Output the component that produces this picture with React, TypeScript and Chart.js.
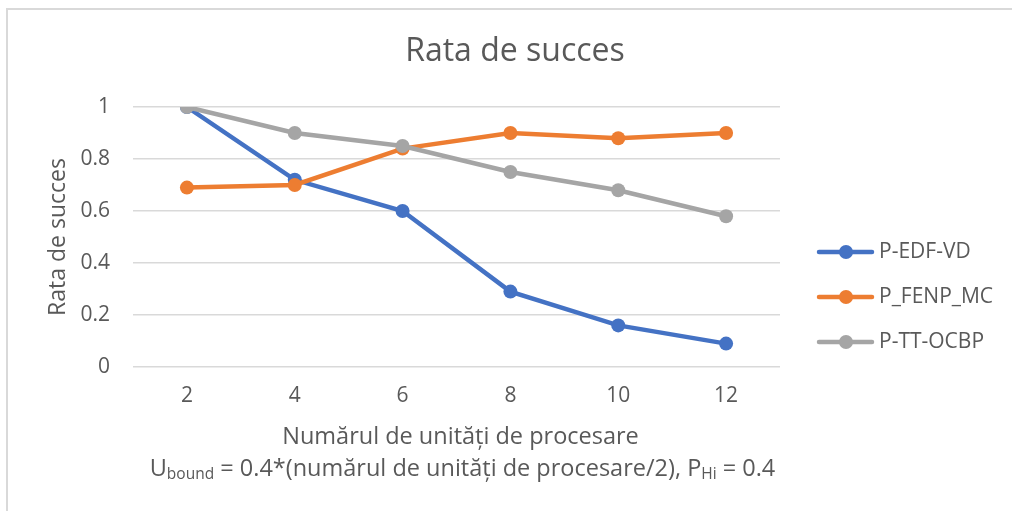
import React, { useEffect, useRef } from "react";
import { Chart, registerables } from "chart.js";

Chart.register(...registerables);

const categories = ["2", "4", "6", "8", "10", "12"];
const seriesNames = ["P-EDF-VD", "P_FENP_MC", "P-TT-OCBP"];
const edfVd = [1, 0.72, 0.6, 0.29, 0.16, 0.09];
const fenpMc = [0.69, 0.7, 0.84, 0.9, 0.88, 0.9];
const ttOcbp = [1, 0.9, 0.85, 0.75, 0.68, 0.58];
const colors = ["#4472C4", "#ED7D31", "#A5A5A5"];
const chartTitle = "Rata de succes";
const yTitle = "Rata de succes";
const xTitle1 = "Numărul de unități de procesare";

const FONT = "'Open Sans', sans-serif";
const TEXT = "#595959";

const decor = {
  id: "decor",
  afterDraw(chart: any) {
    const ctx = chart.ctx as CanvasRenderingContext2D;
    const area = chart.chartArea;
    ctx.save();
    // chart border
    ctx.strokeStyle = "#d9d9d9";
    ctx.lineWidth = 2;
    ctx.beginPath();
    ctx.moveTo(7, 520);
    ctx.lineTo(7, 9);
    ctx.lineTo(1020, 9);
    ctx.stroke();

    ctx.fillStyle = TEXT;
    // title
    ctx.font = `32px ${FONT}`;
    ctx.textAlign = "center";
    ctx.textBaseline = "middle";
    ctx.fillText(chartTitle, 515, 52);

    // y title
    ctx.save();
    ctx.translate(58, (area.top + area.bottom) / 2);
    ctx.rotate(-Math.PI / 2);
    ctx.font = `23px ${FONT}`;
    ctx.fillText(yTitle, 0, 0);
    ctx.restore();

    // x title line 1
    const cx = (area.left + area.right) / 2 + 4;
    ctx.font = `23.5px ${FONT}`;
    ctx.fillText(xTitle1, cx, 437);

    // x title line 2 with subscripts
    const parts: [string, boolean][] = [
      ["U", false],
      ["bound", true],
      [" = 0.4*(numărul de unități de procesare/2), P", false],
      ["Hi", true],
      [" = 0.4", false],
    ];
    const big = `23.5px ${FONT}`;
    const small = `15.5px ${FONT}`;
    let total = 0;
    for (const [t, sub] of parts) {
      ctx.font = sub ? small : big;
      total += ctx.measureText(t).width;
    }
    let x = cx + 2 - total / 2;
    ctx.textAlign = "left";
    for (const [t, sub] of parts) {
      ctx.font = sub ? small : big;
      ctx.fillText(t, x, sub ? 475 : 469);
      x += ctx.measureText(t).width;
    }

    // legend
    const rows = [252, 297, 342];
    rows.forEach((y, i) => {
      ctx.strokeStyle = colors[i];
      ctx.lineWidth = 4.5;
      ctx.lineCap = "round";
      ctx.beginPath();
      ctx.moveTo(819, y);
      ctx.lineTo(872, y);
      ctx.stroke();
      ctx.fillStyle = colors[i];
      ctx.beginPath();
      ctx.arc(846, y, 7, 0, Math.PI * 2);
      ctx.fill();
      ctx.fillStyle = TEXT;
      ctx.font = `21px ${FONT}`;
      ctx.textAlign = "left";
      ctx.textBaseline = "middle";
      ctx.fillText(seriesNames[i], 879, y);
    });
    ctx.restore();
  },
};

export default function App() {
  const ref = useRef<HTMLCanvasElement | null>(null);
  useEffect(() => {
    if (!ref.current) return;
    const values = [edfVd, fenpMc, ttOcbp];
    const chart = new Chart(ref.current, {
      type: "line",
      data: {
        labels: categories,
        datasets: values.map((v, i) => ({
          label: seriesNames[i],
          data: v,
          borderColor: colors[i],
          backgroundColor: colors[i],
          pointBackgroundColor: colors[i],
          pointBorderColor: colors[i],
          pointRadius: 7,
          pointBorderWidth: 0,
          borderWidth: 4.5,
          tension: 0,
          order: 3 - i,
        })),
      },
      options: {
        animation: false,
        responsive: true,
        maintainAspectRatio: false,
        layout: { padding: { left: 0, top: 107, right: 232, bottom: 104 } },
        plugins: {
          legend: { display: false },
          title: { display: false },
          tooltip: { enabled: false },
        },
        scales: {
          x: {
            offset: true,
            grid: { display: false, drawTicks: false },
            border: { display: false },
            ticks: { color: TEXT, font: { family: FONT, size: 21 }, padding: 16 },
            afterFit: (s: any) => {
              s.height = 40;
            },
          },
          y: {
            min: 0,
            max: 1,
            ticks: {
              stepSize: 0.2,
              color: TEXT,
              font: { family: FONT, size: 21 },
              padding: 23,
              callback: (v: any) => String(Math.round(Number(v) * 10) / 10),
            },
            grid: { color: "#d9d9d9", lineWidth: 1.5, drawTicks: false },
            border: { display: false },
            afterFit: (s: any) => {
              s.width = 133;
            },
          },
        },
      },
      plugins: [decor],
    });
    return () => chart.destroy();
  }, []);
  return (
    <div style={{ position: "fixed", left: 0, top: 0, width: 1012, height: 511, background: "#fff" }}>
      <canvas ref={ref} />
    </div>
  );
}
